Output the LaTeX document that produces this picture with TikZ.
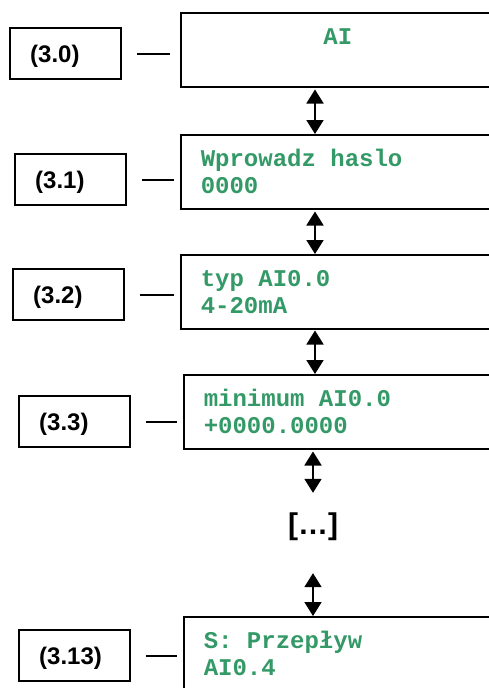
\documentclass[tikz,border=0pt]{standalone}
\usepackage{fontspec}
\setmainfont{Liberation Sans}
\newfontfamily\lcdfont{Liberation Mono}
\usetikzlibrary{arrows.meta}
\definecolor{lcdgreen}{RGB}{51,153,102}
\newcommand\lcdtext{\lcdfont\bfseries\fontsize{24}{27}\selectfont}

\tikzset{
    lcdbox/.style={draw, line width=1.5pt, anchor=north west, minimum width=314pt, minimum height=74pt,
        text width=274pt, inner xsep=20pt, inner ysep=0pt, align=flush left, text=lcdgreen,
        font=\lcdtext},
    numbox/.style={draw, line width=2.4pt, anchor=north west, minimum height=51pt,
        text width=71pt, inner xsep=20pt, inner ysep=0pt, align=flush left,
        text height=18pt, text depth=1pt,
        font=\bfseries\fontsize{24}{26}\selectfont},
    stub/.style={line width=2pt, shorten <=15pt, shorten >=6pt},
    updown/.style={{Triangle[width=17pt,length=14pt]}-{Triangle[width=17pt,length=14pt]}, line width=1.8pt}
}

\begin{document}
\begin{tikzpicture}[x=1pt, y=-1pt]
    \useasboundingbox (0,0) rectangle (489,688);
    \clip (0,0) rectangle (489,688);

    % Ekrany
    \node[lcdbox, align=center] (s0) at (180,12) {AI\\\mbox{}};
    \node[lcdbox] (s1) at (180,134) {Wprowadz haslo\\0000};
    \node[lcdbox] (s2) at (180,254) {typ AI0.0\\4-20mA};
    \node[lcdbox] (s3) at (183,374) {minimum AI0.0\\+0000.0000};
    \node[lcdbox] (s4) at (183,616) {S: Przepływ\\AI0.4};

    % Numery
    \node[numbox] (l0) at (9,27) {(3.0)};
    \node[numbox] (l1) at (14,153) {(3.1)};
    \node[numbox] (l2) at (12,268) {(3.2)};
    \node[numbox] (l3) at (18,395) {(3.3)};
    \node[numbox] (l4) at (18,629) {(3.13)};

    % Kreski
    \draw[stub, shorten >=10pt] (l0.east) -- (l0.east -| s0.west);
    \draw[stub] (l1.east) -- (l1.east -| s1.west);
    \draw[stub] (l2.east) -- (l2.east -| s2.west);
    \draw[stub] (l3.east) -- (l3.east -| s3.west);
    \draw[stub] (l4.east) -- (l4.east -| s4.west);

    % Strzalki
    \coordinate (ax) at (315,0);
    \coordinate (bx) at (313,0);
    \draw[updown, shorten <=2pt] (s0.south -| ax) -- (s1.north -| ax);
    \draw[updown, shorten <=2pt] (s1.south -| ax) -- (s2.north -| ax);
    \draw[updown, shorten <=1pt] (s2.south -| ax) -- (s3.north -| ax);

    % Pominiete ekrany
    \node[inner sep=0pt, font=\bfseries\fontsize{30}{30}\selectfont] (dots) at (313,527) {[…]};
    \draw[updown, shorten <=2pt, shorten >=20pt] (s3.south -| bx) -- (dots.north);
    \draw[updown, shorten <=32pt] (dots.south) -- (s4.north -| bx);
\end{tikzpicture}
\end{document}
